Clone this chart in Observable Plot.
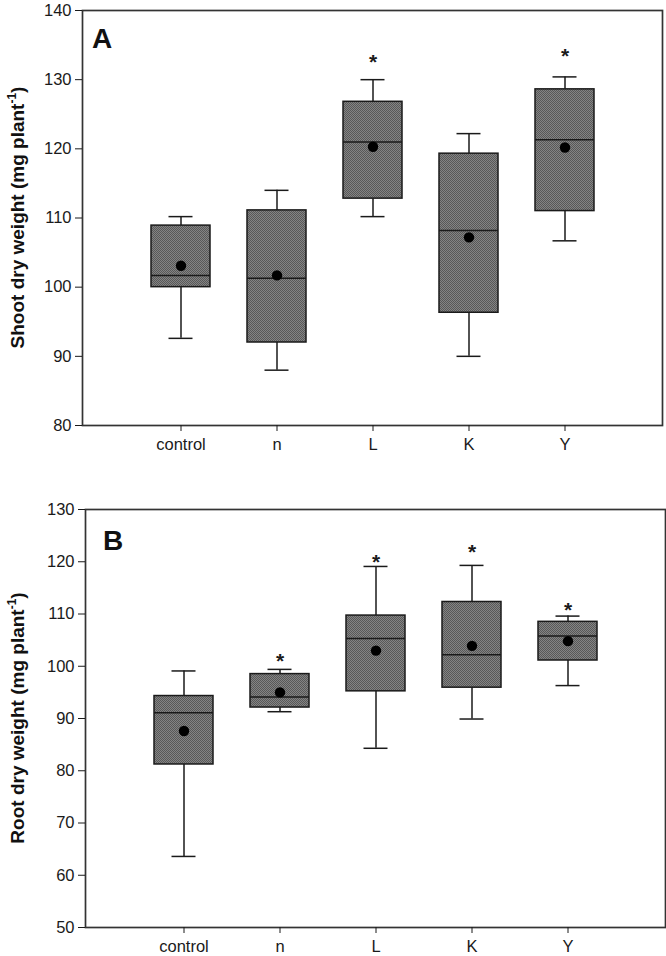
<!DOCTYPE html>
<html>
<head>
<meta charset="utf-8">
<script src="https://cdn.jsdelivr.net/npm/d3@7"></script>
<script src="https://cdn.jsdelivr.net/npm/@observablehq/plot@0.6"></script>
<style>
  html, body { margin: 0; padding: 0; background: #fff; }
  #chart { width: 666px; }
  #chart svg { display: block; }
</style>
</head>
<body>
<div id="chart"></div>
<script>
const categories = ["control", "n", "L", "K", "Y"];

// Panel A: shoot dry weight (mg plant-1)
const shootLow    = [92.6, 88.0, 110.2, 90.0, 106.7];
const shootQ1     = [100.0, 92.0, 112.8, 96.3, 111.0];
const shootMedian = [101.7, 101.3, 121.0, 108.2, 121.3];
const shootQ3     = [108.9, 111.1, 126.8, 119.3, 128.6];
const shootHigh   = [110.2, 114.0, 130.0, 122.2, 130.4];
const shootMean   = [103.1, 101.7, 120.3, 107.2, 120.2];
const shootStar   = [null, null, 133.4, null, 134.2];
const shootTicks  = [80, 90, 100, 110, 120, 130, 140];

// Panel B: root dry weight (mg plant-1)
const rootLow    = [63.6, 91.3, 84.3, 89.9, 96.3];
const rootQ1     = [81.2, 92.1, 95.2, 95.9, 101.1];
const rootMedian = [91.1, 94.1, 105.3, 102.2, 105.8];
const rootQ3     = [94.3, 98.5, 109.7, 112.3, 108.5];
const rootHigh   = [99.1, 99.4, 119.1, 119.3, 109.6];
const rootMean   = [87.6, 95.0, 103.0, 103.9, 104.8];
const rootStar   = [null, 102.1, 121.1, 122.9, 111.9];
const rootTicks  = [50, 60, 70, 80, 90, 100, 110, 120, 130];

function table(low, q1, med, q3, high, mean, star) {
  return categories.map((c, i) => ({
    cat: c, low: low[i], q1: q1[i], med: med[i], q3: q3[i], high: high[i], mean: mean[i], star: star[i]
  }));
}

function panel({data, domain, ticks, letter, letterX, ylabel, height, marginTop, marginBottom, marginLeft, marginRight}) {
  const ink = "#1a1a1a";
  const plot = Plot.plot({
    width: 666,
    height,
    marginTop, marginBottom, marginLeft, marginRight,
    style: {fontFamily: "'Liberation Sans', Arial, sans-serif", fontSize: "16.5px", color: ink, background: "white"},
    x: {domain: categories, paddingInner: 0.39, paddingOuter: 0.695, label: null, tickSize: 6, tickPadding: 7},
    y: {domain, ticks, label: null, tickSize: 7, tickPadding: 4},
    marks: [
      Plot.frame({stroke: "#333", strokeWidth: 1.7}),
      Plot.ruleX(data, {x: "cat", y1: "low", y2: "q1", stroke: ink, strokeWidth: 1.5}),
      Plot.ruleX(data, {x: "cat", y1: "q3", y2: "high", stroke: ink, strokeWidth: 1.5}),
      Plot.tickY(data, {x: "cat", y: "low", stroke: ink, strokeWidth: 1.5, insetLeft: 17.5, insetRight: 17.5}),
      Plot.tickY(data, {x: "cat", y: "high", stroke: ink, strokeWidth: 1.5, insetLeft: 17.5, insetRight: 17.5}),
      Plot.barY(data, {x: "cat", y1: "q1", y2: "q3", fill: "url(#hatch)", stroke: ink, strokeWidth: 1.5}),
      Plot.tickY(data, {x: "cat", y: "med", stroke: ink, strokeWidth: 1.5}),
      Plot.dot(data, {x: "cat", y: "mean", r: 5.2, fill: "black", stroke: "none"}),
      Plot.text(data.filter(d => d.star != null), {x: "cat", y: "star", text: () => "*", fontSize: 21, fontWeight: "bold", fill: ink, dy: 6}),
      Plot.axisX({tickSize: 6, tickPadding: 7, fontSize: 16.5}),
      Plot.axisY({ticks, tickSize: 7, tickPadding: 4, fontSize: 16.5})
    ]
  });
  const svg = d3.select(plot);
  const defs = svg.insert("defs", ":first-child");
  const pat = defs.append("pattern").attr("id", "hatch").attr("patternUnits", "userSpaceOnUse").attr("width", 2).attr("height", 2);
  pat.append("rect").attr("width", 2).attr("height", 2).attr("fill", "#848484");
  pat.append("rect").attr("width", 1).attr("height", 1).attr("fill", "#585858");
  pat.append("rect").attr("x", 1).attr("y", 1).attr("width", 1).attr("height", 1).attr("fill", "#585858");
  // Panel letter
  svg.append("text")
    .attr("x", letterX).attr("y", letterY)
    .attr("font-family", "'Liberation Sans', Arial, sans-serif")
    .attr("font-size", 28).attr("font-weight", "bold").attr("fill", "#111")
    .text(letter);
  // Y axis title with superscript
  const cy = marginTop + (height - marginTop - marginBottom) / 2;
  const t = svg.append("text")
    .attr("transform", `translate(24,${cy}) rotate(-90)`)
    .attr("text-anchor", "middle")
    .attr("font-family", "'Liberation Sans', Arial, sans-serif")
    .attr("font-size", 19).attr("font-weight", "bold").attr("fill", "#111");
  t.append("tspan").text(ylabel + " (mg plant");
  t.append("tspan").attr("font-size", 12).attr("dy", -8).text("-1");
  t.append("tspan").attr("dy", 8).text(")");
  return plot;
}

let letterY = 48;
const chart = document.getElementById("chart");
const a = panel({
  data: table(shootLow, shootQ1, shootMedian, shootQ3, shootHigh, shootMean, shootStar),
  domain: [80, 140], ticks: shootTicks, letter: "A", letterX: 102, ylabel: "Shoot dry weight",
  height: 470, marginTop: 10, marginBottom: 45, marginLeft: 82, marginRight: 4
});
chart.appendChild(a);
letterY = 80;
const b = panel({
  data: table(rootLow, rootQ1, rootMedian, rootQ3, rootHigh, rootMean, rootStar),
  domain: [50, 130], ticks: rootTicks, letter: "B", letterX: 113, ylabel: "Root dry weight",
  height: 486, marginTop: 39, marginBottom: 29, marginLeft: 85, marginRight: 1
});
chart.appendChild(b);
</script>
</body>
</html>
